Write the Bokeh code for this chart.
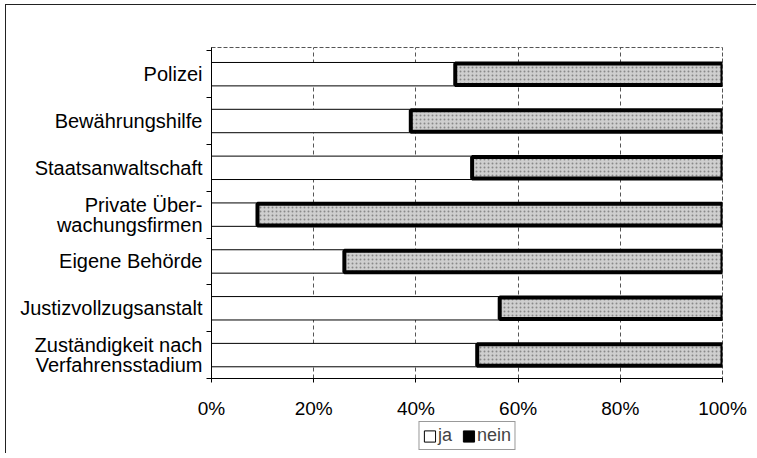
from bokeh.plotting import figure
from bokeh.layouts import column
from bokeh.models import (Range1d, FixedTicker, PrintfTickFormatter, Legend, LegendItem,
                          ColumnDataSource)
from bokeh.embed import file_html
from bokeh.resources import INLINE

categories = ["Polizei", "Bewährungshilfe", "Staatsanwaltschaft",
              "Private Über-\nwachungsfirmen", "Eigene Behörde",
              "Justizvollzugsanstalt", "Zuständigkeit nach\nVerfahrensstadium"]
ja = [47.7, 39.0, 51.0, 9.0, 26.0, 56.4, 52.0]
nein = [100 - v for v in ja]
x_ticks = [0, 20, 40, 60, 80, 100]
legend_labels = ["ja", "nein"]

n = len(categories)
pos = [n - i - 0.5 for i in range(n)]
src = ColumnDataSource(dict(y=pos, ja=ja, nein=nein, total=[a + b for a, b in zip(ja, nein)]))

W, H1, H2 = 750, 416, 32
font = "Liberation Sans"

p = figure(width=W, height=H1, output_backend="svg", toolbar_location=None,
           x_range=Range1d(0, 100), y_range=Range1d(0, n + 0.07),
           min_border_left=205, min_border_right=34, min_border_top=42, min_border_bottom=39)
p.background_fill_color = "white"
p.border_fill_color = "white"
p.outline_line_color = "#555555"
p.outline_line_dash = "4 2"
p.outline_line_width = 1

p.hbar(y="y", left=0, right="ja", height=0.5, source=src,
       fill_color="white", line_color="black", line_width=1)
p.hbar(y="y", left="ja", right="total", height=0.46, source=src,
       fill_color="#cfcfcf", line_color="black", line_width=4,
       hatch_pattern=".", hatch_color="#777777", hatch_scale=4, hatch_weight=1.2, hatch_alpha=0.8)

# x axis
xa = p.xaxis[0]
xa.ticker = FixedTicker(ticks=x_ticks)
xa.formatter = PrintfTickFormatter(format="%d%%")
xa.major_label_text_font = font
xa.major_label_text_font_size = "19px"
xa.major_label_text_color = "black"
xa.major_label_text_line_height = 1.0
xa.major_tick_in = 0
xa.major_tick_out = 4
xa.minor_tick_line_color = None
xa.major_label_standoff = 15
xa.axis_line_color = "black"
xa.major_tick_line_color = "black"

# y axis
ya = p.yaxis[0]
ya.ticker = FixedTicker(ticks=pos, minor_ticks=list(range(n + 1)))
ya.major_label_overrides = {pv: c for pv, c in zip(pos, categories)}
ya.major_label_text_font = font
ya.major_label_text_font_size = "20px"
ya.major_label_text_color = "black"
ya.major_label_text_line_height = 0.9
ya.major_tick_in = 0
ya.major_tick_out = 0
ya.minor_tick_in = 0
ya.minor_tick_out = 5
ya.minor_tick_line_color = "black"
ya.major_label_standoff = 4
ya.axis_line_color = "black"

p.xgrid.ticker = FixedTicker(ticks=x_ticks)
p.xgrid.grid_line_color = "#555555"
p.xgrid.grid_line_dash = "4 3"
p.xgrid.grid_line_width = 1
p.ygrid.grid_line_color = None

# legend figure
p2 = figure(width=W, height=H2, output_backend="svg", toolbar_location=None,
            x_axis_location=None, y_axis_location=None,
            x_range=Range1d(0, 1), y_range=Range1d(0, 1),
            min_border=0, min_border_left=0, min_border_right=0,
            min_border_top=0, min_border_bottom=0)
p2.outline_line_color = None
p2.grid.visible = False
p2.background_fill_color = "white"
p2.border_fill_color = "white"
nan = float("nan")
r_ja = p2.quad(left=[nan], right=[nan], bottom=[nan], top=[nan],
               fill_color="white", line_color="black", line_width=1)
r_nein = p2.quad(left=[nan], right=[nan], bottom=[nan], top=[nan],
                 fill_color="black", line_color="black", line_width=1)

legend = Legend(items=[LegendItem(label=legend_labels[0], renderers=[r_ja]),
                       LegendItem(label=legend_labels[1], renderers=[r_nein])],
                orientation="horizontal", location="top_center",
                label_text_font=font, label_text_font_size="18px",
                glyph_width=14, glyph_height=14, label_standoff=2, spacing=3,
                padding=3, margin=0, label_height=18,
                border_line_color="#333333", border_line_width=1,
                background_fill_color="white")
p2.add_layout(legend, "center")

layout = column(p, p2, spacing=0)
layout.styles = {"border-left": "1px solid #222", "border-top": "1px solid #222",
                 "margin-left": "5px", "margin-top": "4px"}

open("out.html", "w").write(file_html(layout, INLINE))
